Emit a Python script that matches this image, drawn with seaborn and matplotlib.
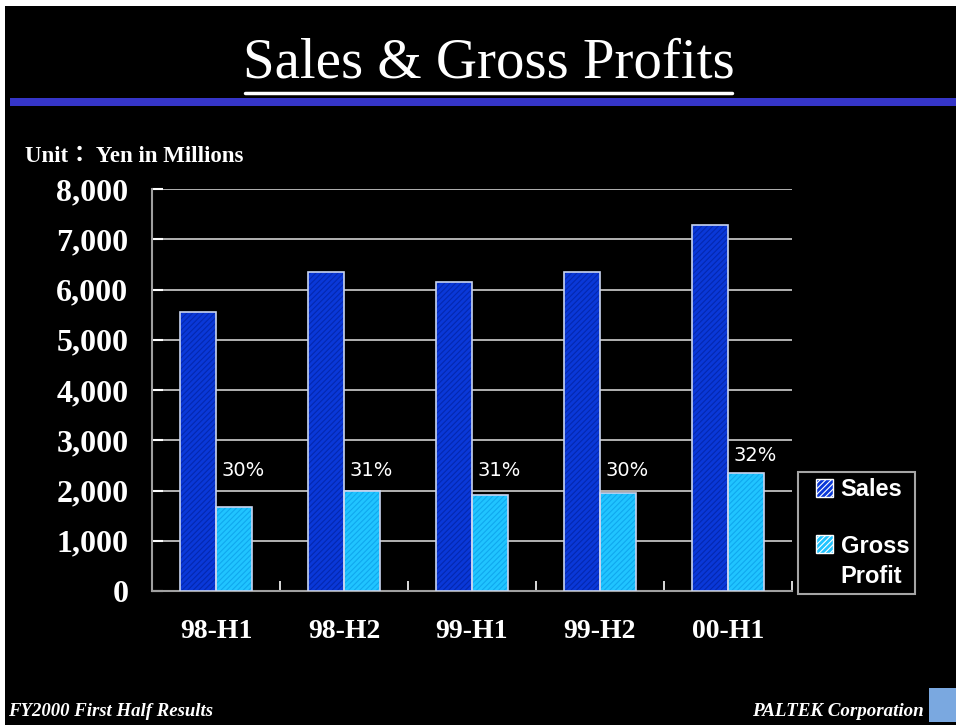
import matplotlib.pyplot as plt
import matplotlib.ticker as mticker
from matplotlib.patches import Patch, Rectangle
from matplotlib.lines import Line2D
from matplotlib.legend_handler import HandlerPatch
import pandas as pd
import seaborn as sns

# data
periods = ["98-H1", "98-H2", "99-H1", "99-H2", "00-H1"]
sales = [5550, 6350, 6150, 6350, 7280]
gross_profit = [1670, 1990, 1910, 1950, 2350]
margins = ["30%", "31%", "31%", "30%", "32%"]

df = pd.DataFrame({
    "period": periods * 2,
    "series": ["Sales"] * len(periods) + ["Gross Profit"] * len(periods),
    "value": sales + gross_profit,
})

sns.set_theme(style="dark")
plt.rcParams["hatch.linewidth"] = 0.8

fig = plt.figure(figsize=(9.56, 7.25), dpi=100, facecolor="black")

# white frame strips (top / left) seen in the reference
fig.patches.append(Rectangle((0, 1 - 6 / 725), 1, 6 / 725, transform=fig.transFigure,
                             facecolor="white", edgecolor="none", zorder=0))
fig.patches.append(Rectangle((0, 0), 5 / 956, 1, transform=fig.transFigure,
                             facecolor="white", edgecolor="none", zorder=0))
# blue band under the title
fig.patches.append(Rectangle((10 / 956, 1 - 106 / 725), 1, 8 / 725, transform=fig.transFigure,
                             facecolor="#3535c8", edgecolor="none"))

ax = fig.add_axes([152 / 956, 134 / 725, 640 / 956, 402 / 725])
ax.set_facecolor("black")

colors = {"Sales": "#0a38d8", "Gross Profit": "#20c4ff"}
hatch_cols = {"Sales": "#0428b0", "Gross Profit": "#10a8ee"}
sns.barplot(data=df, x="period", y="value", hue="series", palette=colors,
            width=0.5625, legend=False, ax=ax, zorder=3, saturation=1)

n = len(periods)
for i, p in enumerate(ax.patches[:2 * n]):
    key = "Sales" if i < n else "Gross Profit"
    p.set_hatch("//////")
    p.set_edgecolor(hatch_cols[key])
    p.set_linewidth(0)
    outline = Rectangle(p.get_xy(), p.get_width(), p.get_height(), facecolor="none",
                        edgecolor="#c8d4f0", linewidth=1.2, zorder=4)
    ax.add_patch(outline)

# margin labels above gross profit bars
for i, (g, m) in enumerate(zip(gross_profit, margins)):
    ax.text(i + 0.045, max(2400, g + 350), m, color="white", fontsize=14,
            ha="left", va="center", family="DejaVu Sans", zorder=5)

ax.set_ylim(0, 8000)
ax.set_xlim(-0.5, n - 0.5)
ax.yaxis.set_major_locator(mticker.MultipleLocator(1000))
ax.yaxis.set_major_formatter(mticker.FuncFormatter(lambda v, _: f"{int(v):,}"))
ax.grid(axis="y", color="#c0c0c0", linewidth=1.3, zorder=1)
ax.grid(axis="x", visible=False)
ax.set_axisbelow(True)
for s in ["top", "right"]:
    ax.spines[s].set_visible(False)
for s in ["left", "bottom"]:
    ax.spines[s].set_visible(True)
    ax.spines[s].set_color("#a0a0a0")
    ax.spines[s].set_linewidth(1.5)

ax.tick_params(axis="y", colors="white", labelsize=23, direction="in", length=8,
               width=1.5, left=True, pad=17)
ax.tick_params(axis="x", colors="white", labelsize=20, length=0, pad=20)
ax.xaxis.set_minor_locator(mticker.FixedLocator([i + 0.5 for i in range(n)]))
ax.tick_params(axis="x", which="minor", direction="in", length=7, width=1.2,
               color="white", bottom=True)
for lab in ax.get_yticklabels() + ax.get_xticklabels():
    lab.set_family("Liberation Serif")
    lab.set_fontweight("bold")
ax.set_xlabel("")
ax.set_ylabel("")


# legend squares: pushed to the right end of the handle box, and for the
# two-line label lifted beside the first line
def make_square(lift):
    def square(legend, orig_handle, xdescent, ydescent, width, height, fontsize):
        side = 0.75 * fontsize
        return Rectangle((-xdescent + width - side, -ydescent + lift * fontsize), side, side)
    return square


handles = [Patch(facecolor=colors["Sales"], edgecolor="white", hatch="//////"),
           Patch(facecolor=colors["Gross Profit"], edgecolor="white", hatch="//////")]
leg = fig.legend(handles, ["Sales", "Gross\nProfit"], loc="lower left",
                 bbox_to_anchor=(798 / 956, 131 / 725), borderaxespad=0,
                 frameon=True, fancybox=False,
                 facecolor="black", edgecolor="#d0d0d0", labelspacing=1.42,
                 handlelength=1.25, handleheight=0.75, handletextpad=0.3,
                 borderpad=0.25, prop={"family": "Liberation Sans", "weight": "bold", "size": 17},
                 handler_map={handles[0]: HandlerPatch(patch_func=make_square(0)),
                              handles[1]: HandlerPatch(patch_func=make_square(0.75))})
leg.get_frame().set_linewidth(1.5)
for t in leg.get_texts():
    t.set_color("white")
    t.set_linespacing(1.4)

# title with underline
fig.text(488.5 / 956, 1 - 64 / 725, "Sales & Gross Profits", color="white", ha="center",
         va="center", fontsize=41, family="Liberation Serif")
fig.add_artist(Line2D([245 / 956, 732 / 956], [1 - 93 / 725] * 2, color="white",
                      linewidth=2.5, transform=fig.transFigure))

fig.text(25 / 956, 1 - 157 / 725, "Unit\uff1a Yen in Millions", color="white",
         ha="left", va="center", fontsize=16.5, fontweight="bold",
         family=["Liberation Serif", "Noto Sans CJK JP"])

# footer
fig.text(8 / 956, 1 - 711 / 725, "FY2000 First Half Results", color="white",
         ha="left", va="center", fontsize=13.5, fontweight="bold", style="italic",
         family="Liberation Serif")
fig.text(924 / 956, 1 - 711 / 725, "PALTEK Corporation", color="white",
         ha="right", va="center", fontsize=13.7, fontweight="bold", style="italic",
         family="Liberation Serif")
fig.patches.append(Rectangle((929 / 956, 1 - 722 / 725), 27 / 956, 34 / 725,
                             transform=fig.transFigure, facecolor="#7aa8e0",
                             edgecolor="none"))

fig.savefig("out.png", dpi=100, facecolor=fig.get_facecolor())
